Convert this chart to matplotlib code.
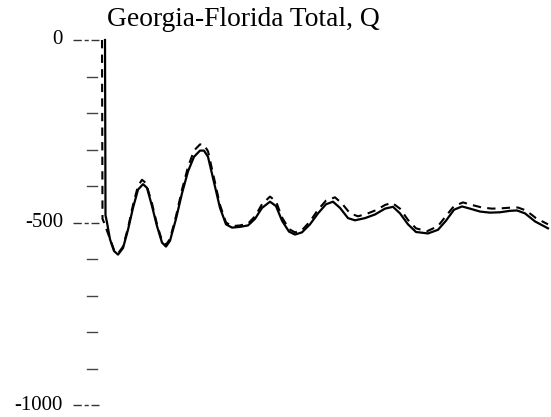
import matplotlib
matplotlib.use("Agg")
import matplotlib.pyplot as plt
import matplotlib.transforms as mtransforms

title = "Georgia-Florida Total, Q"

# time (arbitrary units) and Q values
t_solid = [5, 5.5, 7, 10, 14, 18, 23, 28, 33, 38, 43, 47, 52, 57, 62, 66, 70, 76, 82, 88,
           94, 100, 104, 108, 114, 120, 126, 132, 140, 148, 155, 162, 170, 176, 182, 189,
           195, 202, 210, 218, 226, 233, 240, 248, 255, 265, 275, 285, 293, 300, 308, 316,
           328, 338, 346, 354, 362, 370, 380, 390, 400, 410, 417, 425, 435, 448]
q_solid = [0, -480, -500, -546, -578, -588, -570, -520, -460, -410, -395, -405, -455, -510,
           -555, -566, -550, -490, -420, -360, -320, -303, -303, -320, -390, -460, -505, -514,
           -512, -508, -490, -460, -443, -455, -495, -525, -533, -527, -505, -475, -450, -443,
           -460, -488, -494, -488, -478, -462, -457, -475, -505, -526, -530, -520, -495, -465,
           -456, -462, -470, -473, -472, -468, -467, -475, -497, -516]

t_dash = [2, 2.5, 4, 10, 14, 18, 23, 28, 33, 38, 42, 46, 52, 57, 62, 66, 70, 76, 82, 88,
          94, 100, 104, 108, 114, 120, 126, 132, 140, 148, 155, 162, 170, 176, 182, 189,
          195, 202, 210, 218, 226, 235, 242, 250, 258, 267, 277, 285, 292, 300, 308, 316,
          327, 338, 346, 354, 363, 372, 382, 392, 402, 412, 418, 426, 436, 448]
q_dash = [0, -490, -500, -545, -575, -585, -566, -515, -452, -400, -383, -392, -448, -505,
          -550, -561, -545, -483, -410, -348, -303, -286, -287, -305, -378, -452, -500, -510,
          -508, -503, -483, -450, -429, -442, -486, -518, -527, -521, -497, -465, -440, -431,
          -448, -475, -483, -476, -465, -452, -446, -462, -493, -516, -524, -510, -482, -455,
          -445, -452, -459, -462, -461, -459, -459, -467, -488, -505]

major_ticks = [0, -500, -1000]
major_labels = ["0", "-500", "-1000"]
minor_ticks = [-100, -200, -300, -400, -600, -700, -800, -900]

W, H = 551, 417
fig = plt.figure(figsize=(W / 100, H / 100), dpi=100)
ax = fig.add_axes([100 / W, 12 / H, 451 / W, 365 / H])
ax.set_xlim(0, 451)
ax.set_ylim(-1000, 0)
ax.axis("off")

ax.plot(t_solid, q_solid, color="black", lw=1.6, solid_joinstyle="round", clip_on=False)
ax.plot(t_dash, q_dash, color="black", lw=1.5, dashes=(4, 3), clip_on=False)

# y-axis ticks drawn as short dashed marks to the left of the plot
trans = mtransforms.blended_transform_factory(fig.transFigure, ax.transData)
for v, lab in zip(major_ticks, major_labels):
    ax.plot([73 / W, 99 / W], [v, v], transform=trans, color="#333333", lw=1.0,
            dashes=(6, 2, 3, 2), clip_on=False)
    ax.text(63 / W, v, lab, transform=trans, ha="right", va="center",
            fontsize=15, family="Liberation Serif")
for v in minor_ticks:
    ax.plot([87 / W, 97 / W], [v, v], transform=trans, color="#444444", lw=1.0,
            clip_on=False)

fig.text(107 / W, 1 - 19 / H, title, ha="left", va="center", fontsize=19.8,
         family="Liberation Serif")

fig.savefig("out.png", dpi=100)
